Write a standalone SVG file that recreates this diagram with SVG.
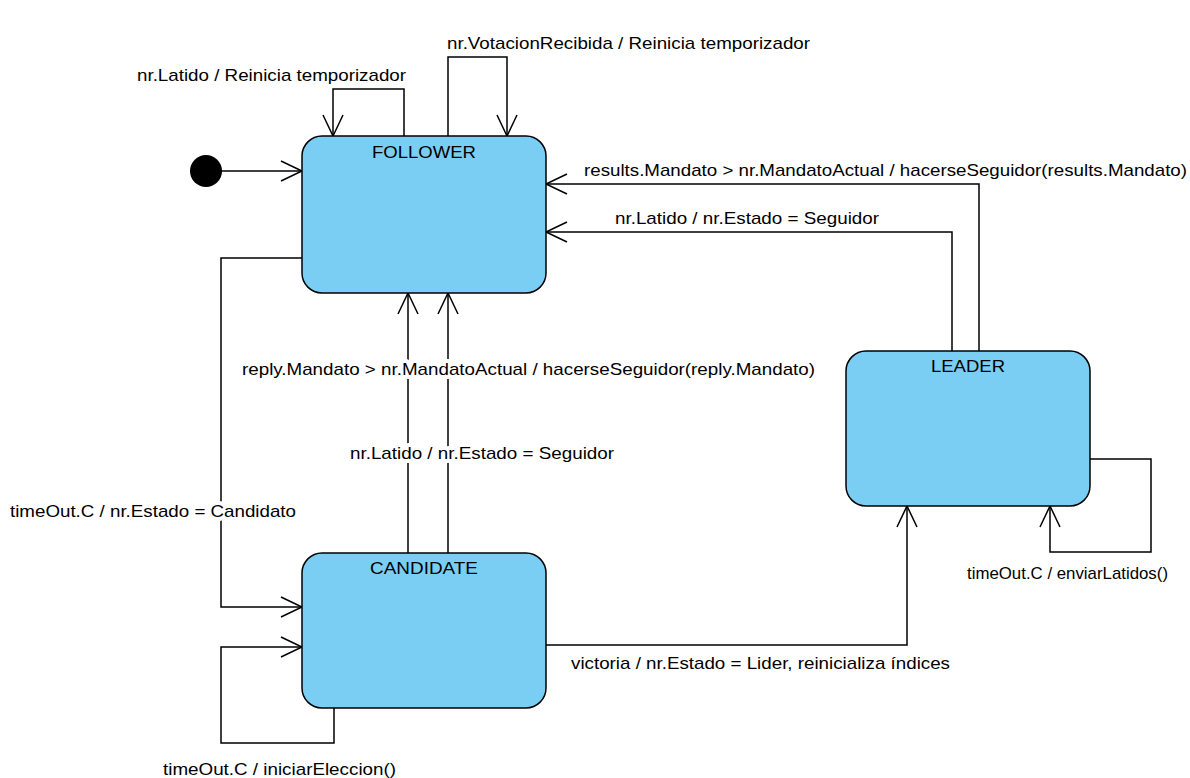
<svg xmlns="http://www.w3.org/2000/svg" width="1190" height="778" viewBox="0 0 1190 778">
<defs>
<style>
.node{fill:#7acef4;stroke:#000;stroke-width:1.5}
.title{font-family:"Liberation Sans",Arial,sans-serif;font-size:17px;fill:#000}
.edge{fill:none;stroke:#000;stroke-width:1.5}
.lbl{font-family:"Liberation Sans",Arial,sans-serif;font-size:17px;fill:#000}
.bg{stroke:#fff;stroke-width:8;paint-order:stroke;stroke-linejoin:round}
</style>
<marker id="arr" markerWidth="24" markerHeight="24" refX="22" refY="12" orient="auto" markerUnits="userSpaceOnUse">
<path d="M1,2 L22,12 L1,22" fill="none" stroke="#000" stroke-width="1.5"/>
</marker>
</defs>
<rect width="1190" height="778" fill="#fff"/>
<g id="connectors">
<path class="edge" d="M222,171 H302" marker-end="url(#arr)"/>
<path class="edge" d="M404,136 V89 H333 V136" marker-end="url(#arr)"/>
<path class="edge" d="M448,136 V57 H507 V136" marker-end="url(#arr)"/>
<path class="edge" d="M979,351 V184 H546" marker-end="url(#arr)"/>
<path class="edge" d="M952,351 V232 H546" marker-end="url(#arr)"/>
<path class="edge" d="M302,258 H221 V607 H302" marker-end="url(#arr)"/>
<path class="edge" d="M334,708 V743 H221 V647 H302" marker-end="url(#arr)"/>
<path class="edge" d="M408,553 V293" marker-end="url(#arr)"/>
<path class="edge" d="M448,553 V293" marker-end="url(#arr)"/>
<path class="edge" d="M546,645 H907 V506" marker-end="url(#arr)"/>
<path class="edge" d="M1090,459 H1151 V552 H1050 V506" marker-end="url(#arr)"/>
<text class="lbl" x="137" y="81" textLength="269" lengthAdjust="spacingAndGlyphs">nr.Latido / Reinicia temporizador</text>
<text class="lbl" x="447" y="49" textLength="363" lengthAdjust="spacingAndGlyphs">nr.VotacionRecibida / Reinicia temporizador</text>
<text class="lbl" x="584" y="176" textLength="603" lengthAdjust="spacingAndGlyphs">results.Mandato &gt; nr.MandatoActual / hacerseSeguidor(results.Mandato)</text>
<text class="lbl" x="615" y="224" textLength="264" lengthAdjust="spacingAndGlyphs">nr.Latido / nr.Estado = Seguidor</text>
<text class="lbl bg" x="10" y="517" textLength="286" lengthAdjust="spacingAndGlyphs">timeOut.C / nr.Estado = Candidato</text>
<text class="lbl" x="163" y="775" textLength="233" lengthAdjust="spacingAndGlyphs">timeOut.C / iniciarEleccion()</text>
<text class="lbl bg" x="242" y="375" textLength="573" lengthAdjust="spacingAndGlyphs">reply.Mandato &gt; nr.MandatoActual / hacerseSeguidor(reply.Mandato)</text>
<text class="lbl bg" x="350" y="459" textLength="264" lengthAdjust="spacingAndGlyphs">nr.Latido / nr.Estado = Seguidor</text>
<text class="lbl" x="571" y="669" textLength="379" lengthAdjust="spacingAndGlyphs">victoria / nr.Estado = Lider, reinicializa índices</text>
<text class="lbl" x="967" y="579" textLength="201" lengthAdjust="spacingAndGlyphs">timeOut.C / enviarLatidos()</text>
</g>
<g id="initial">
<circle cx="206" cy="171" r="16" fill="#000"/>
</g>
<g id="follower">
<rect class="node" x="302" y="136" width="244" height="157" rx="20"/>
<text class="title" x="372" y="158" textLength="104" lengthAdjust="spacingAndGlyphs">FOLLOWER</text>
</g>
<g id="candidate">
<rect class="node" x="302" y="553" width="244" height="155" rx="20"/>
<text class="title" x="370" y="574" textLength="108" lengthAdjust="spacingAndGlyphs">CANDIDATE</text>
</g>
<g id="leader">
<rect class="node" x="846" y="351" width="244" height="155" rx="20"/>
<text class="title" x="931" y="372" textLength="74" lengthAdjust="spacingAndGlyphs">LEADER</text>
</g>
</svg>
